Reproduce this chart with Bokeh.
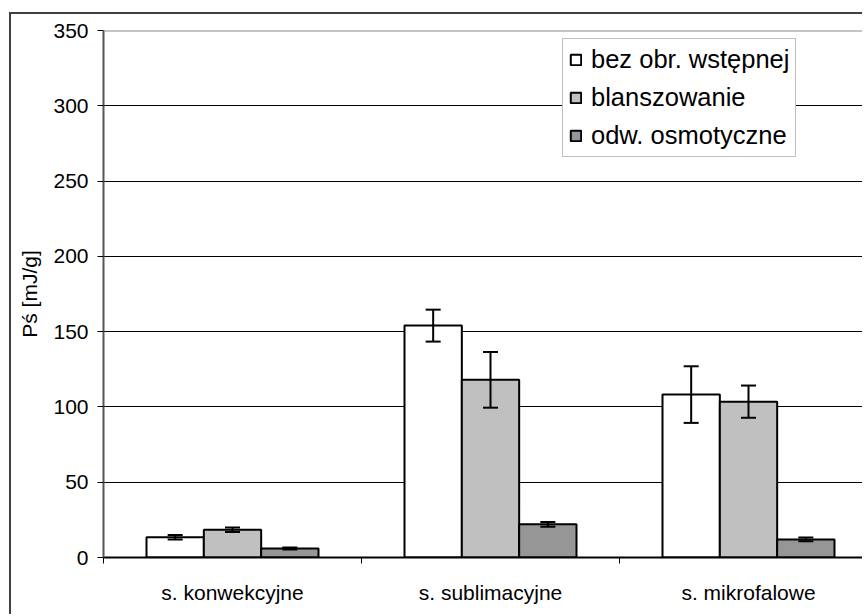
from bokeh.plotting import figure
from bokeh.models import (ColumnDataSource, FixedTicker, Range1d, Span,
                          Whisker, TeeHead, Legend, LegendItem)
from bokeh.embed import file_html
from bokeh.resources import INLINE

# Drying methods (x categories)
categories = ["s. konwekcyjne", "s. sublimacyjne", "s. mikrofalowe"]

# Pretreatment series
series_names = ["bez obr. wstępnej", "blanszowanie", "odw. osmotyczne"]

# Mean values [mJ/g]
no_pretreat = [13.5, 154.0, 108.2]
blanching = [18.4, 118.0, 103.5]
osmotic = [6.0, 22.0, 12.0]

# Error bar half-widths [mJ/g]
no_pretreat_err = [1.5, 10.6, 18.8]
blanching_err = [1.5, 18.5, 10.7]
osmotic_err = [0.7, 1.5, 1.2]

y_ticks = [0, 50, 100, 150, 200, 250, 300, 350]

FONT = "Liberation Sans"
fills = ["#ffffff", "#c0c0c0", "#969696"]

p = figure(width=853, height=602, output_backend="svg", toolbar_location=None,
           x_range=Range1d(0, 761 / 258), y_range=Range1d(0, 350),
           min_border_left=92, min_border_top=16, min_border_bottom=59,
           min_border_right=0)
p.styles = {"margin-left": "9px", "margin-top": "12px",
            "border-left": "2px solid #404040", "border-top": "2px solid #404040"}
p.outline_line_color = None
p.background_fill_color = "white"
p.border_fill_color = "white"

bar_w = 2 / 9
offsets = [-bar_w, 0.0, bar_w]
values = [no_pretreat, blanching, osmotic]
errors = [no_pretreat_err, blanching_err, osmotic_err]

items = []
for k in range(3):
    xs = [i + 0.5 + offsets[k] for i in range(len(categories))]
    src = ColumnDataSource(dict(
        x=xs, top=values[k],
        upper=[v + e for v, e in zip(values[k], errors[k])],
        lower=[v - e for v, e in zip(values[k], errors[k])],
    ))
    r = p.vbar(x="x", top="top", width=bar_w, source=src,
               fill_color=fills[k], line_color="black", line_width=2)
    items.append(LegendItem(label=series_names[k], renderers=[r]))
    p.add_layout(Whisker(source=src, base="x", upper="upper", lower="lower",
                         level="overlay",
                         line_color="black", line_width=2,
                         upper_head=TeeHead(size=15, line_color="black", line_width=2),
                         lower_head=TeeHead(size=15, line_color="black", line_width=2)))

# Top edge of the plot area
p.add_layout(Span(location=350, dimension="width", line_color="#8a8a8a", line_width=2))

# Axes
p.yaxis.ticker = FixedTicker(ticks=y_ticks)
p.yaxis.axis_line_color = "#555555"
p.yaxis.axis_line_width = 2
p.yaxis.major_tick_out = 6
p.yaxis.major_tick_in = 0
p.yaxis.major_tick_line_color = "black"
p.yaxis.minor_tick_line_color = None
p.yaxis.major_label_standoff = 9
p.yaxis.major_label_text_font = FONT
p.yaxis.major_label_text_font_size = "21px"
p.yaxis.major_label_text_color = "black"
p.yaxis.axis_label = "Pś [mJ/g]"
p.yaxis.axis_label_text_font = FONT
p.yaxis.axis_label_text_font_size = "21px"
p.yaxis.axis_label_text_font_style = "normal"
p.yaxis.axis_label_text_color = "black"
p.yaxis.axis_label_standoff = 9

p.xaxis.ticker = FixedTicker(ticks=[i + 0.5 for i in range(len(categories))],
                             minor_ticks=list(range(len(categories) + 1)))
p.xaxis.major_label_overrides = {i + 0.5: c for i, c in enumerate(categories)}
p.xaxis.axis_line_color = "black"
p.xaxis.axis_line_width = 2
p.xaxis.major_tick_line_color = None
p.xaxis.major_tick_out = 0
p.xaxis.major_tick_in = 0
p.xaxis.minor_tick_out = 6
p.xaxis.minor_tick_in = 0
p.xaxis.minor_tick_line_color = "black"
p.xaxis.major_label_standoff = 17
p.xaxis.major_label_text_font = FONT
p.xaxis.major_label_text_font_size = "21px"
p.xaxis.major_label_text_color = "black"

p.xgrid.grid_line_color = None
p.ygrid.grid_line_color = "black"
p.ygrid.grid_line_width = 1

legend = Legend(items=items, location=(459, 400))
legend.label_text_font = FONT
legend.label_text_font_size = "25.5px"
legend.label_text_color = "black"
legend.label_height = 29
legend.glyph_width = 13
legend.glyph_height = 13
legend.label_standoff = 9
legend.spacing = 9
legend.padding = 6
legend.margin = 0
legend.border_line_color = "#808080"
legend.border_line_width = 1
legend.background_fill_alpha = 1
p.add_layout(legend)

open("out.html", "w").write(file_html(p, INLINE))
